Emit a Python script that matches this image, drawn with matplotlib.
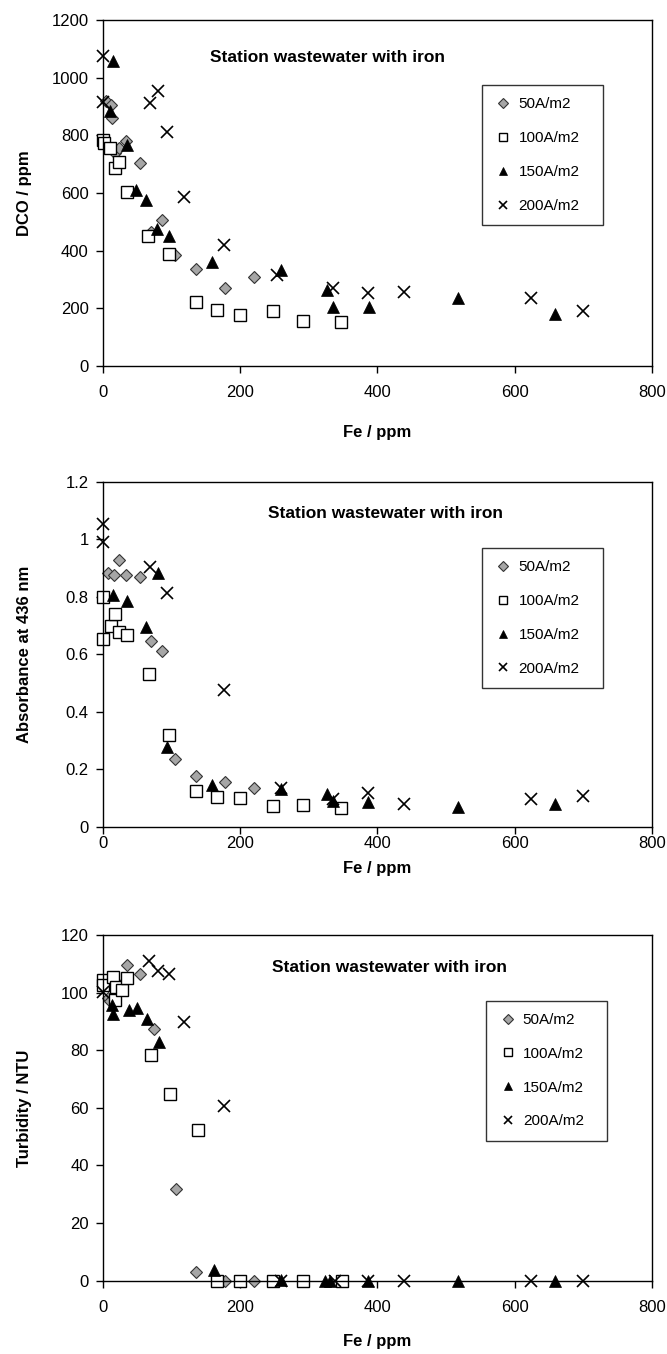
import matplotlib
matplotlib.use('Agg')
import matplotlib.pyplot as plt
from matplotlib.ticker import FuncFormatter

plt.rcParams['font.family'] = ['Liberation Sans', 'DejaVu Sans']

series_labels = ['50A/m2', '100A/m2', '150A/m2', '200A/m2']
title_text = 'Station wastewater with iron'
x_label = 'Fe / ppm'

# DCO panel
dco50_x = [5, 12, 14, 18, 24, 34, 55, 71, 86, 105, 136, 178, 220]
dco50_y = [920, 905, 860, 740, 755, 780, 705, 465, 505, 385, 335, 270, 307]
dco100_x = [0, 2, 11, 18, 24, 35, 66, 96, 136, 167, 200, 248, 292, 347]
dco100_y = [785, 773, 756, 687, 706, 602, 450, 388, 222, 195, 178, 190, 157, 151]
dco150_x = [11, 15, 36, 48, 63, 79, 96, 159, 259, 326, 335, 388, 518, 659]
dco150_y = [885, 1058, 768, 612, 577, 476, 450, 361, 332, 263, 203, 203, 235, 180]
dco200_x = [0, 0, 69, 81, 94, 119, 176, 254, 336, 387, 439, 624, 699]
dco200_y = [1074, 914, 912, 955, 810, 586, 421, 314, 269, 252, 258, 235, 192]

# Absorbance panel
abs50_x = [8, 16, 24, 34, 55, 71, 86, 105, 136, 178, 220]
abs50_y = [0.884, 0.875, 0.927, 0.875, 0.869, 0.645, 0.613, 0.237, 0.176, 0.156, 0.135]
abs100_x = [0, 1, 12, 18, 24, 35, 68, 96, 136, 167, 200, 248, 292, 347]
abs100_y = [0.653, 0.80, 0.70, 0.74, 0.676, 0.667, 0.53, 0.32, 0.124, 0.104, 0.10, 0.073, 0.075, 0.064]
abs150_x = [15, 36, 63, 80, 94, 159, 259, 326, 335, 387, 518, 659]
abs150_y = [0.807, 0.786, 0.696, 0.884, 0.277, 0.145, 0.133, 0.115, 0.09, 0.087, 0.067, 0.079]
abs200_x = [0, 0, 69, 94, 176, 259, 336, 387, 439, 624, 699]
abs200_y = [1.052, 0.991, 0.905, 0.812, 0.477, 0.136, 0.098, 0.116, 0.079, 0.098, 0.107]

# Turbidity panel
tur50_x = [8, 11, 24, 35, 55, 74, 107, 136, 178, 220]
tur50_y = [98, 97, 102.5, 109.5, 106.4, 87.3, 32, 3.1, 0, 0]
tur100_x = [0, 0, 15, 18, 20, 28, 36, 71, 98, 139, 167, 200, 248, 292, 348]
tur100_y = [104.5, 102.5, 105.4, 97.3, 102, 101, 105.2, 78.3, 64.7, 52.3, 0, 0, 0, 0, 0]
tur150_x = [14, 15, 39, 50, 65, 82, 162, 259, 324, 331, 387, 518, 659]
tur150_y = [95.6, 92.7, 93.9, 94.7, 90.8, 82.9, 3.7, 0.2, 0, 0, 0, 0, 0]
tur200_x = [0, 68, 81, 97, 118, 176, 259, 339, 387, 439, 624, 699]
tur200_y = [100.2, 111, 107.5, 106.4, 89.8, 60.7, 0, 0, 0, 0, 0, 0]

styles = [
    dict(marker='D', ms=6.5, mfc='#a6a6a6', mec='#333333', mew=0.8),
    dict(marker='s', ms=8, mfc='white', mec='black', mew=1.0),
    dict(marker='^', ms=8, mfc='black', mec='black', mew=0.5),
    dict(marker='x', ms=8, mfc='none', mec='black', mew=1.2),
]


def draw_panel(fig, rect, data, ylabel, ylim, ystep, title_x, title_y, leg_xy, xlabel_y, xpad):
    ax = fig.add_axes(rect)
    for (xs, ys), st, lab in zip(data, styles, series_labels):
        ax.plot(xs, ys, linestyle='none', label=lab, clip_on=False, **st)
    ax.set(xlim=[0, 800], ylim=ylim)
    ax.set_xticks(range(0, 801, 200))
    n = int(round((ylim[1] - ylim[0]) / ystep))
    ax.set_yticks([ylim[0] + i * ystep for i in range(n + 1)])
    ax.yaxis.set_major_formatter(FuncFormatter(lambda v, p: '%g' % round(v, 6)))
    ax.tick_params(axis='both', direction='out', length=5, width=1, labelsize=12, colors='black')
    ax.tick_params(axis='x', pad=xpad)
    ax.tick_params(axis='y', pad=5)
    for sp in ax.spines.values():
        sp.set_linewidth(1.0)
    ax.set_ylabel(ylabel, fontsize=12, fontweight='bold')
    ax.yaxis.set_label_coords(-0.128, 0.5)
    ax.set_xlabel(x_label, fontsize=12, fontweight='bold')
    ax.xaxis.set_label_coords(0.5, xlabel_y)
    ax.text(title_x, title_y, title_text, transform=ax.transAxes, ha='center', va='center',
            fontsize=12.5, fontweight='bold')
    leg = ax.legend(loc='upper left', bbox_to_anchor=(leg_xy[0], leg_xy[1], 0.22, 0.0), mode='expand',
                    borderaxespad=0, fontsize=11, frameon=True, fancybox=False, edgecolor='black',
                    borderpad=0.8, labelspacing=1.3, handlelength=1.2, handletextpad=0.4,
                    markerscale=0.75)
    leg.get_frame().set_linewidth(1.0)
    return ax


fig = plt.figure(figsize=(6.67, 13.54), dpi=100)

draw_panel(fig, [0.154, 0.7297, 0.8235, 0.2555],
           [(dco50_x, dco50_y), (dco100_x, dco100_y), (dco150_x, dco150_y), (dco200_x, dco200_y)],
           'DCO / ppm', [0, 1200], 200, 0.41, 0.893, (0.690, 0.812), -0.17, 9)

draw_panel(fig, [0.154, 0.3894, 0.8235, 0.2548],
           [(abs50_x, abs50_y), (abs100_x, abs100_y), (abs150_x, abs150_y), (abs200_x, abs200_y)],
           'Absorbance at 436 nm', [0, 1.2], 0.2, 0.514, 0.909, (0.690, 0.808), -0.098, 2)

draw_panel(fig, [0.154, 0.0541, 0.8235, 0.2554],
           [(tur50_x, tur50_y), (tur100_x, tur100_y), (tur150_x, tur150_y), (tur200_x, tur200_y)],
           'Turbidity / NTU', [0, 120], 20, 0.523, 0.905, (0.698, 0.81), -0.155, 9)

fig.savefig('out.png', dpi=100)
